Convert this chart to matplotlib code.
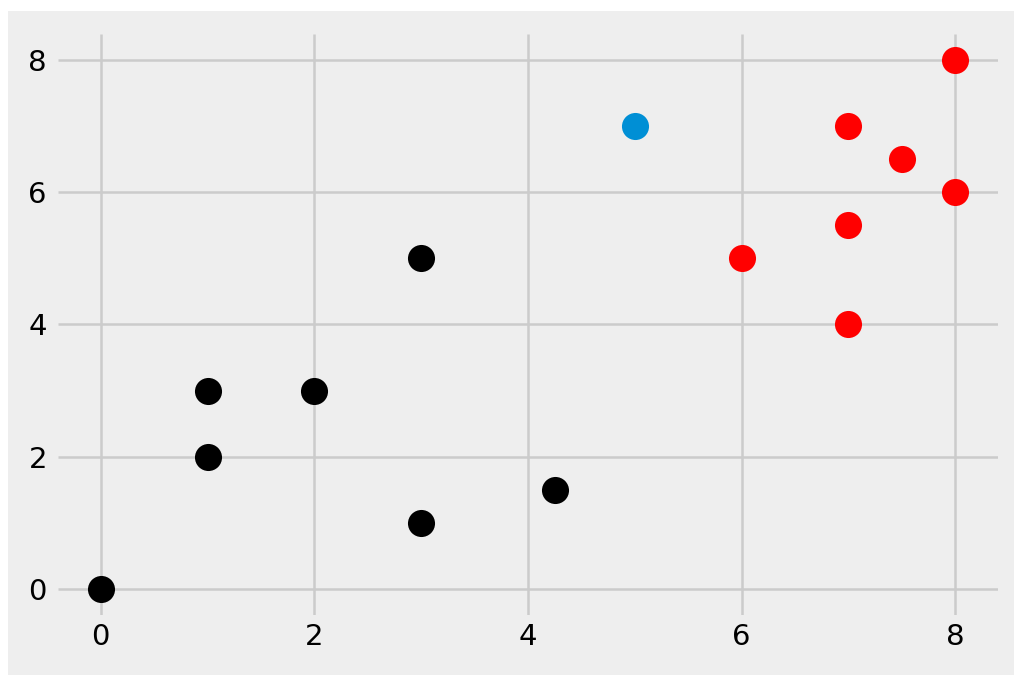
import matplotlib.pyplot as plt
from matplotlib.patches import Rectangle

plt.style.use("fivethirtyeight")

black_x = [0, 1, 1, 2, 3, 3, 4.25]
black_y = [0, 3, 2, 3, 5, 1, 1.5]
red_x = [6, 7, 7.5, 8, 8, 7, 7]
red_y = [5, 7, 6.5, 8, 6, 5.5, 4]
blue_x = [5]
blue_y = [7]

fig = plt.figure(figsize=(10.24, 6.86), dpi=100)
fig.patch.set_facecolor("white")
fig.patches.append(Rectangle((8 / 1024, 11 / 686), 1006 / 1024, 664 / 686,
                             transform=fig.transFigure, facecolor="#eeeeee",
                             edgecolor="none", zorder=-10))
ax = fig.add_axes([58 / 1024, 1 - 615 / 686, 940 / 1024, 581 / 686])
ax.set_facecolor("#eeeeee")

ax.scatter(black_x, black_y, s=380, color="black", linewidths=0, zorder=3)
ax.scatter(red_x, red_y, s=380, color="red", linewidths=0, zorder=3)
ax.scatter(blue_x, blue_y, s=380, color="#008fd5", linewidths=0, zorder=3)

ax.set_xlim(-0.4, 8.4)
ax.set_ylim(-0.4, 8.4)
ax.set_xticks([0, 2, 4, 6, 8])
ax.set_yticks([0, 2, 4, 6, 8])
ax.tick_params(labelsize=21, length=0)
ax.tick_params(axis="x", pad=6)
ax.tick_params(axis="y", pad=8)
ax.grid(True, color="#cbcbcb", linewidth=1.8)
for sp in ax.spines.values():
    sp.set_visible(False)

fig.savefig("out.png", dpi=100, facecolor="white")
